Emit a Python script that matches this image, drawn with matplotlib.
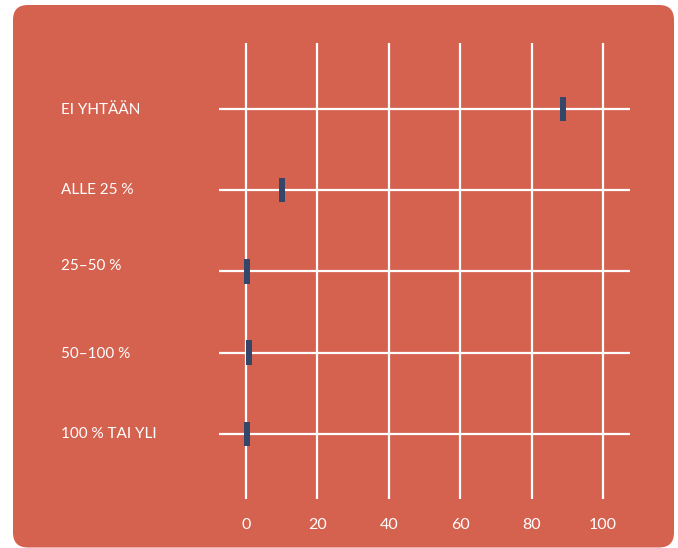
import matplotlib.pyplot as plt
import matplotlib.transforms as mtransforms
from matplotlib.patches import FancyBboxPatch

# --- Data ---
categories = ['EI YHTÄÄN', 'ALLE 25 %', '25–50 %', '50–100 %', '100 % TAI YLI']
values = [88.9, 10.1, 0.2, 0.7, 0.2]
xticks = [0, 20, 40, 60, 80, 100]

bg = '#D5614F'
bar_col = '#34466A'
plt.rcParams['font.family'] = ['Lato', 'DejaVu Sans']

fig = plt.figure(figsize=(6.78, 5.48), dpi=100)
fig.patch.set_facecolor('white')

# --- Rounded background panel ---
W, H = 678, 548
panel = FancyBboxPatch((13 / W, 0.5 / H), 661 / W, 542.5 / H,
                       boxstyle='round,pad=0,rounding_size=0.022',
                       transform=fig.transFigure, facecolor=bg, edgecolor='none',
                       mutation_aspect=W / H, zorder=-5)
fig.patches.append(panel)

ax = fig.add_axes([219 / W, 1 - 499 / H, 411 / W, 456 / H])
ax.set_facecolor('none')
ax.set_zorder(2)
ypos = list(range(len(categories)))

ax.set_xlim(-7.6, 107.6)
ax.set_ylim(4.8, -0.81)

# grid lines
for x in xticks:
    ax.axvline(x, color='white', lw=1.6, zorder=1)
for y in ypos:
    ax.axhline(y, color='white', lw=1.6, zorder=1)

# markers: thin vertical bars centred on the value
ax.barh(ypos, [1.7] * len(values), left=[v - 0.85 for v in values],
        height=0.3, color=bar_col, zorder=3)

for s in ax.spines.values():
    s.set_visible(False)
ax.set_yticks([])
ax.set_xticks(xticks)
ax.set_xticklabels([str(t) for t in xticks])
ax.tick_params(axis='x', length=0, pad=14, labelsize=11.5, labelcolor='white')

# category labels on the left
trans = mtransforms.blended_transform_factory(fig.transFigure, ax.transData)
offsets = [0.02, 0.0, -0.07, 0.01, 0.0]
for y, lab, off in zip(ypos, categories, offsets):
    fig.text(61 / W, y + off, lab, transform=trans, color='white',
             fontsize=11, va='center', ha='left', zorder=3)

fig.savefig('out.png', dpi=100, facecolor='white')
